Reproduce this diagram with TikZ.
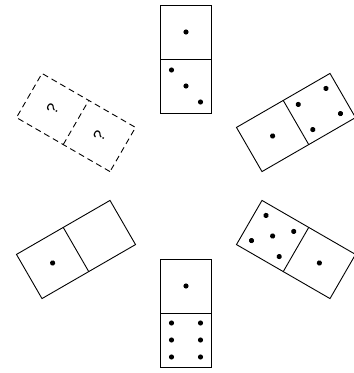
\documentclass[tikz,border=0pt]{standalone}
\usepackage{fontspec}
\setmainfont{Liberation Sans}
\usepackage{tikz}

\begin{document}
\begin{tikzpicture}[x=1pt, y=1pt,
    domino/.style={draw, line width=0.9pt},
    guess/.style={draw, line width=0.9pt, dash pattern=on 6pt off 4pt},
    pip/.style={fill=black},
    qmark/.style={font=\fontsize{16}{16}\selectfont, transform shape}]

  \useasboundingbox (-186,-187) rectangle (168,186);

  % --- top: 1 | 3 ---
  \begin{scope}[shift={(0,127)}]
    \draw[domino] (-25.5,-54) rectangle (25.5,54);
    \draw[domino] (-25.5,0) -- (25.5,0);
    \fill[pip] (0,27) circle (2.6);
    \fill[pip] (-14.5,-11) circle (2.6);
    \fill[pip] (0,-27) circle (2.6);
    \fill[pip] (14.5,-43) circle (2.6);
  \end{scope}

  % --- upper right: 1 | 4 ---
  \begin{scope}[shift={(110,63.5)}, rotate=-60]
    \draw[domino] (-25.5,-54) rectangle (25.5,54);
    \draw[domino] (-25.5,0) -- (25.5,0);
    \fill[pip] (0,-27) circle (2.6);
    \fill[pip] (-14.5,11) circle (2.6);
    \fill[pip] (14.5,11) circle (2.6);
    \fill[pip] (-14.5,43) circle (2.6);
    \fill[pip] (14.5,43) circle (2.6);
  \end{scope}

  % --- lower right: 5 | 1 ---
  \begin{scope}[shift={(110,-63.5)}, rotate=-120]
    \draw[domino] (-25.5,-54) rectangle (25.5,54);
    \draw[domino] (-25.5,0) -- (25.5,0);
    \fill[pip] (-14.5,-11) circle (2.6);
    \fill[pip] (14.5,-11) circle (2.6);
    \fill[pip] (0,-27) circle (2.6);
    \fill[pip] (-14.5,-43) circle (2.6);
    \fill[pip] (14.5,-43) circle (2.6);
    \fill[pip] (0,27) circle (2.6);
  \end{scope}

  % --- bottom: 1 | 6 ---
  \begin{scope}[shift={(0,-127)}, rotate=180]
    \draw[domino] (-25.5,-54) rectangle (25.5,54);
    \draw[domino] (-25.5,0) -- (25.5,0);
    \fill[pip] (0,-27) circle (2.6);
    \fill[pip] (-14.5,10) circle (2.6);
    \fill[pip] (14.5,10) circle (2.6);
    \fill[pip] (-14.5,27) circle (2.6);
    \fill[pip] (14.5,27) circle (2.6);
    \fill[pip] (-14.5,44) circle (2.6);
    \fill[pip] (14.5,44) circle (2.6);
  \end{scope}

  % --- lower left: 0 | 1 ---
  \begin{scope}[shift={(-110,-63.5)}, rotate=120]
    \draw[domino] (-25.5,-54) rectangle (25.5,54);
    \draw[domino] (-25.5,0) -- (25.5,0);
    \fill[pip] (0,27) circle (2.6);
  \end{scope}

  % --- upper left: the missing one ---
  \begin{scope}[shift={(-110,63.5)}, rotate=60]
    \draw[guess] (-25.5,-54) rectangle (25.5,54);
    \draw[guess] (-25.5,0) -- (25.5,0);
    \node[qmark] (qouter) at (0,27) {?};
    \node[qmark] (qinner) at (0,-27) {?};
  \end{scope}
\end{tikzpicture}
\end{document}
